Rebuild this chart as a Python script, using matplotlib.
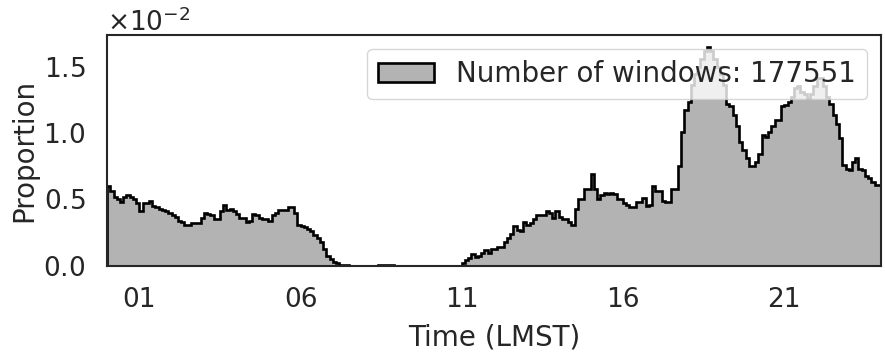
import numpy as np
import matplotlib.pyplot as plt
import seaborn as sns

sns.set_theme(style="white")
plt.rcParams['font.family'] = ['DejaVu Sans']
plt.rcParams['axes.formatter.use_mathtext'] = True

# proportion per 0.1 h bin, in units of 1e-2
prop_00_07 = [0.60, 0.56, 0.52, 0.50, 0.48, 0.52, 0.53, 0.52, 0.50, 0.47,
              0.41, 0.47, 0.47, 0.49, 0.45, 0.44, 0.43, 0.42, 0.41, 0.40,
              0.38, 0.37, 0.34, 0.33, 0.31, 0.31, 0.32, 0.32, 0.32, 0.36,
              0.40, 0.39, 0.38, 0.35, 0.35, 0.41, 0.46, 0.42, 0.43, 0.41,
              0.39, 0.36, 0.36, 0.33, 0.34, 0.39, 0.38, 0.36, 0.35, 0.35,
              0.34, 0.38, 0.40, 0.42, 0.42, 0.42, 0.44, 0.44, 0.40, 0.31,
              0.30, 0.29, 0.28, 0.26, 0.23, 0.21, 0.18, 0.13, 0.075, 0.05,
              0.03, 0.02, 0.01, 0.01, 0.01]
prop_07_11 = [0.0] * 9 + [0.008] * 5 + [0.0] * 21
prop_11_17 = [0.02, 0.045, 0.06, 0.09, 0.07, 0.075, 0.10, 0.12, 0.10, 0.13,
              0.13, 0.145, 0.145, 0.18, 0.21, 0.24, 0.30, 0.27, 0.26, 0.33,
              0.31, 0.32, 0.35, 0.38, 0.38, 0.38, 0.41, 0.40, 0.36, 0.41,
              0.37, 0.35, 0.35, 0.33, 0.31, 0.43, 0.50, 0.50, 0.58, 0.58,
              0.69, 0.58, 0.50, 0.53, 0.55, 0.54, 0.55, 0.54, 0.50, 0.50,
              0.47, 0.46, 0.44, 0.44, 0.48, 0.48, 0.51, 0.45, 0.46, 0.60,
              0.56, 0.56, 0.49, 0.48, 0.48, 0.58, 0.58]
prop_17_24 = [0.75, 1.01, 1.17, 1.235, 1.36, 1.44, 1.50, 1.56, 1.62, 1.65,
              1.62, 1.56, 1.50, 1.44, 1.36, 1.22, 1.20, 1.135, 1.05, 0.935,
              0.87, 0.81, 0.75, 0.755, 0.78, 0.84, 0.985, 0.97, 1.01, 1.05,
              1.10, 1.10, 1.20, 1.21, 1.235, 1.27, 1.34, 1.35, 1.31, 1.29,
              1.26, 1.29, 1.35, 1.41, 1.41, 1.35, 1.27, 1.22, 1.135, 1.07,
              0.96, 0.76, 0.73, 0.72, 0.78, 0.81, 0.73, 0.72, 0.68, 0.66,
              0.63, 0.61, 0.61]
n_windows = 177551
tick_hours = [1, 6, 11, 16, 21]
tick_labels = ["01", "06", "11", "16", "21"]

prop = np.array(prop_00_07 + prop_07_11 + prop_11_17 + prop_17_24) * 1e-2
edges = np.linspace(0, 24, len(prop) + 1)
centers = 0.5 * (edges[:-1] + edges[1:])

fig = plt.figure(figsize=(8.85, 3.57), dpi=100)
ax = fig.add_axes([0.121, 0.255, 0.8745, 0.647])
ax.hist(centers, bins=edges, weights=prop, histtype='stepfilled',
        facecolor='#b3b3b3', edgecolor='black', linewidth=1.9,
        label=f"Number of windows: {n_windows}")

ax.set_xlim(0, 24)
ax.set_ylim(0, 0.01737)
ax.set_yticks([0, 0.005, 0.010, 0.015])
ax.ticklabel_format(axis='y', style='sci', scilimits=(0, 0))
ax.yaxis.get_offset_text().set_fontsize(19)
ax.set_xticks(tick_hours)
ax.set_xticklabels(tick_labels)
ax.tick_params(labelsize=19, pad=9.5)
ax.set_xlabel("Time (LMST)", fontsize=20, labelpad=7)
ax.set_ylabel("Proportion", fontsize=20, labelpad=4)
for sp in ax.spines.values():
    sp.set_linewidth(1.5)
    sp.set_color('#262626')
ax.legend(loc='upper right', fontsize=20)

fig.savefig("out.png", dpi=100)
